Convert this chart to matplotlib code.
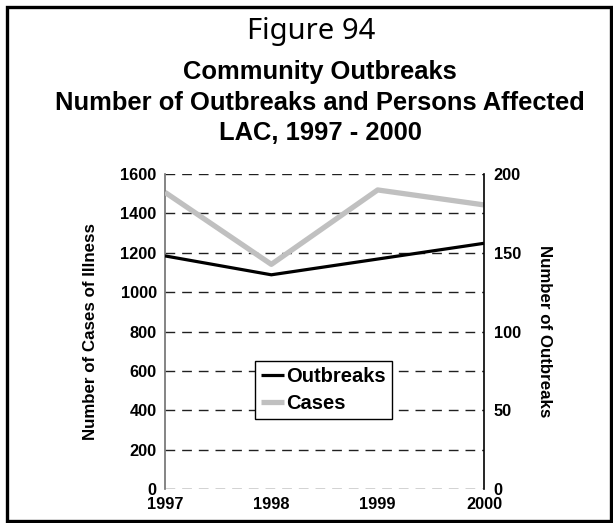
import matplotlib
matplotlib.use("Agg")
import matplotlib.pyplot as plt
from matplotlib.patches import Rectangle

years = [1997, 1998, 1999, 2000]
cases = [1507, 1141, 1519, 1443]
outbreaks = [148, 136, 146, 156]
left_ticks = [0, 200, 400, 600, 800, 1000, 1200, 1400, 1600]
right_ticks = [0, 50, 100, 150, 200]

plt.rcParams['font.family'] = ['Liberation Sans', 'DejaVu Sans']
plt.rcParams['font.weight'] = 'bold'

W, H = 613, 523
fig = plt.figure(figsize=(W / 100, H / 100), dpi=100)

def fx(px):
    return px / W

def fy(py):
    return 1 - py / H

ax = fig.add_axes([fx(165), fy(489), fx(484) - fx(165), fy(174) - fy(489)])
ax2 = ax.twinx()

ax.set_ylim(0, 1600)
ax.set_xlim(1997, 2000)
ax.set_yticks(left_ticks)
ax.set_xticks(years)
for v in left_ticks:
    ax.axhline(v, color='#202020', lw=1.0, ls=(0, (7, 5)), zorder=1)

l_cases, = ax.plot(years, cases, color='#c0c0c0', lw=3.8, zorder=3,
                   solid_capstyle='butt', label='Cases')
ax2.set_ylim(0, 200)
ax2.set_yticks(right_ticks)
l_out, = ax2.plot(years, outbreaks, color='black', lw=2.3, zorder=3,
                  solid_capstyle='butt', label='Outbreaks')

for a in (ax, ax2):
    a.spines['top'].set_visible(False)
    a.spines['bottom'].set_visible(False)
    a.tick_params(length=0, labelsize=11.8)
ax2.spines['left'].set_visible(False)
ax.spines['right'].set_visible(False)
ax.spines['left'].set_color('#707070')
ax.spines['left'].set_linewidth(1.2)
ax2.spines['right'].set_color('black')
ax2.spines['right'].set_linewidth(1.2)
ax.tick_params(axis='y', pad=6)
ax2.tick_params(axis='y', pad=7)
ax.tick_params(axis='x', pad=6)
for lab in ax.get_xticklabels() + ax.get_yticklabels() + ax2.get_yticklabels():
    lab.set_fontweight('bold')

ax.set_ylabel('Number of Cases of Illness', fontsize=12.2, fontweight='bold')
ax.yaxis.set_label_coords((98 - 165) / 319, 0.5)
ax2.set_ylabel('Number of Outbreaks', fontsize=12.2, fontweight='bold', rotation=270, va='center')
ax2.yaxis.set_label_coords((544 - 165) / 319, 0.5)

leg = ax2.legend([l_out, l_cases], ['Outbreaks', 'Cases'], loc='lower left',
                 bbox_to_anchor=((255 - 165) / 319, (489 - 419) / 315),
                 borderaxespad=0, fancybox=False, framealpha=1, edgecolor='black',
                 prop={'weight': 'bold', 'size': 14.5}, handlelength=1.15,
                 handletextpad=0.1, labelspacing=0.4, borderpad=0.3)
leg.get_frame().set_linewidth(1.0)

# titles
fig.text(fx(311), fy(39), 'Figure 94', ha='center', va='baseline', fontsize=21,
         family=['Noto Sans', 'DejaVu Sans'], fontweight='normal')
fig.text(fx(320), fy(79), 'Community Outbreaks', ha='center', va='baseline', fontsize=18.4, fontweight='bold')
fig.text(fx(320), fy(110), 'Number of Outbreaks and Persons Affected', ha='center', va='baseline',
         fontsize=18.4, fontweight='bold')
fig.text(fx(320), fy(140), 'LAC, 1997 - 2000', ha='center', va='baseline', fontsize=18.4, fontweight='bold')

# outer border
fig.patches.append(Rectangle((fx(6.5), fy(521)), fx(611) - fx(6.5), fy(6.5) - fy(521),
                             transform=fig.transFigure, fill=False, edgecolor='black', lw=2.4))

fig.savefig('out.png', dpi=100)
